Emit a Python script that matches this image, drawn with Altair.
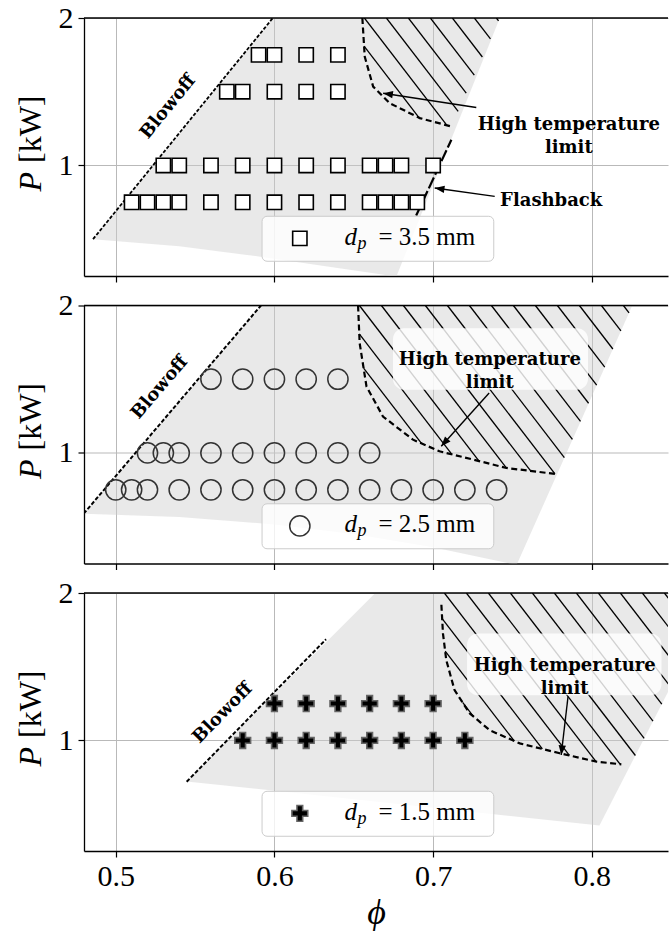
import math
import altair as alt
import pandas as pd

SERIF = "Liberation Serif"
ANN = "DejaVu Serif"
GRID = "#b9b9b9"

PHI_DOMAIN = [0.48, 0.848]
P_DOMAIN = [0.25, 2.0]
X_TICKS = [0.5, 0.6, 0.7, 0.8]
Y_TICKS = [1, 2]
W, H = 584, 258

# ---------------- measured operating points ----------------
# panel 1 : d_p = 3.5 mm (squares)
p1_P_rows = [1.75, 1.5, 1.0, 0.75]
p1_phi_rows = [
    [0.59, 0.60, 0.62, 0.64],
    [0.57, 0.58, 0.60, 0.62, 0.64],
    [0.53, 0.54, 0.56, 0.58, 0.60, 0.62, 0.64, 0.66, 0.67, 0.68, 0.70],
    [0.51, 0.52, 0.53, 0.54, 0.56, 0.58, 0.60, 0.62, 0.64, 0.66, 0.67, 0.68, 0.69],
]
# panel 2 : d_p = 2.5 mm (circles)
p2_P_rows = [1.5, 1.0, 0.75]
p2_phi_rows = [
    [0.56, 0.58, 0.60, 0.62, 0.64],
    [0.52, 0.53, 0.54, 0.56, 0.58, 0.60, 0.62, 0.64, 0.66],
    [0.50, 0.51, 0.52, 0.54, 0.56, 0.58, 0.60, 0.62, 0.64, 0.66, 0.68, 0.70, 0.72, 0.74],
]
# panel 3 : d_p = 1.5 mm (plus)
p3_P_rows = [1.25, 1.0]
p3_phi_rows = [
    [0.60, 0.62, 0.64, 0.66, 0.68, 0.70],
    [0.58, 0.60, 0.62, 0.64, 0.66, 0.68, 0.70, 0.72],
]

# ---------------- stable-region outlines (grey) ----------------
p1_region_phi = [0.4857, 0.599, 0.742, 0.6766, 0.669, 0.588, 0.540]
p1_region_P = [0.500, 2.0, 2.0, 0.24, 0.258, 0.385, 0.452]
p2_region_phi = [0.4798, 0.5915, 0.8255, 0.7526, 0.70, 0.65, 0.60, 0.54]
p2_region_P = [0.588, 2.0, 2.0, 0.24, 0.36, 0.45, 0.515, 0.565]
p3_region_phi = [0.5447, 0.6636, 0.88, 0.8048]
p3_region_P = [0.722, 2.0, 2.0, 0.423]

# ---------------- high temperature limit curves ----------------
p1_ht_phi = [0.6554, 0.6569, 0.6622, 0.6727, 0.6916, 0.7115]
p1_ht_P = [2.0, 1.738, 1.535, 1.422, 1.321, 1.264]
p2_ht_phi = [0.6527, 0.6537, 0.658, 0.6684, 0.6873, 0.704, 0.7252, 0.7462, 0.778]
p2_ht_P = [2.0, 1.745, 1.451, 1.247, 1.09, 1.011, 0.955, 0.898, 0.856]
p3_ht_phi = [0.7052, 0.7062, 0.7083, 0.7135, 0.7231, 0.7357, 0.7546, 0.7798, 0.8029, 0.8186]
p3_ht_P = [1.92, 1.725, 1.544, 1.341, 1.183, 1.069, 0.98, 0.913, 0.856, 0.838]
# closing corners of the hatched zones (along the grey edge / top)
p1_hatch_close_phi = [0.742, 0.6554]
p1_hatch_close_P = [2.0, 2.0]
p2_hatch_close_phi = [0.8255, 0.6527]
p2_hatch_close_P = [2.0, 2.0]
p3_hatch_close_phi = [0.8246, 0.88, 0.7052]
p3_hatch_close_P = [0.838, 2.0, 2.0]

# ---------------- blowoff / flashback lines ----------------
p1_blow_phi = [0.4857, 0.599]
p1_blow_P = [0.50, 2.0]
p2_blow_phi = [0.4798, 0.5915]
p2_blow_P = [0.588, 2.0]
p3_blow_phi = [0.5447, 0.6325]
p3_blow_P = [0.72, 1.686]
p1_flash_phi = [0.6893, 0.7115]
p1_flash_P = [0.66, 1.174]

# ---------------- annotation anchors (data units) ----------------
blow_text = [(0.533, 1.397), (0.5277, 1.442), (0.5674, 1.185)]
ht_text = [(0.7855, 1.276), (0.7357, 1.628), (0.7829, 1.508)]
ht_box = [None, (0.6747, 0.7976, 1.429, 1.846), (0.7214, 0.8439, 1.307, 1.725)]
ht_arrow = [((0.7272, 1.393), (0.6685, 1.49)),
            ((0.7353, 1.406), (0.7051, 1.045)),
            ((0.785, 1.296), (0.7807, 0.901))]
flash_text = (0.7744, 0.756)
flash_arrow = ((0.7388, 0.79), (0.701, 0.847))
legend_box = (0.5922, 0.7382, 0.35, 0.655)
legend_sym = (0.616, 0.505)
legend_txt = (0.6441, 0.463)
legend_labels = ["3.5", "2.5", "1.5"]
hatch_phase = [302.4, 297.4, 382.4]

# ---------------- helpers ----------------
SX = W / (PHI_DOMAIN[1] - PHI_DOMAIN[0])
SY = H / (P_DOMAIN[1] - P_DOMAIN[0])


def to_px(phi, P):
    return ((phi - PHI_DOMAIN[0]) * SX, (P_DOMAIN[1] - P) * SY)


def to_data(X, Y):
    return (PHI_DOMAIN[0] + X / SX, P_DOMAIN[1] - Y / SY)


def hatch(poly_phi, poly_P, phase, spacing=22.0, slope=1.3):
    pts = [to_px(a, b) for a, b in zip(poly_phi, poly_P)]
    cs = [X - Y / slope for X, Y in pts]
    k0 = math.floor((min(cs) - phase) / spacing)
    k1 = math.ceil((max(cs) - phase) / spacing)
    rows = []
    n = len(pts)
    for k in range(k0, k1 + 1):
        c = phase + k * spacing
        hits = []
        for i in range(n):
            xa, ya = pts[i]
            xb, yb = pts[(i + 1) % n]
            fa = xa - ya / slope - c
            fb = xb - yb / slope - c
            if (fa > 0) != (fb > 0):
                t = fa / (fa - fb)
                hits.append((ya + t * (yb - ya), xa + t * (xb - xa)))
        hits.sort()
        for j in range(0, len(hits) - 1, 2):
            (y1_, x1_), (y2_, x2_) = hits[j], hits[j + 1]
            a = to_data(x1_, y1_)
            b = to_data(x2_, y2_)
            rows.append({"phi": a[0], "P": a[1], "phi2": b[0], "P2": b[1]})
    return pd.DataFrame(rows)


def angle_of(phi_a, P_a, phi_b, P_b):
    dx = (phi_b - phi_a) * SX
    dy = (P_b - P_a) * SY
    return (360 - math.degrees(math.atan2(dy, dx))) % 360


PLUS = ("M-0.36,-1L0.36,-1L0.36,-0.36L1,-0.36L1,0.36L0.36,0.36L0.36,1L-0.36,1"
        "L-0.36,0.36L-1,0.36L-1,-0.36L-0.36,-0.36Z")
HEAD = "M0,0L-0.38,1L0.38,1Z"

xscale = alt.Scale(domain=PHI_DOMAIN, nice=False, zero=False)
yscale = alt.Scale(domain=P_DOMAIN, nice=False, zero=False)


def axes(last):
    ax = alt.Axis(values=X_TICKS, labels=last, title="ϕ" if last else "", format=".1f",
                  grid=True, gridColor=GRID, gridWidth=1, tickSize=6, tickColor="black",
                  tickWidth=1.2, domainColor="black", domainWidth=1.3, labelFont=SERIF,
                  labelFontSize=30, labelColor="black", labelPadding=4, labelFlush=False,
                  titleFont=SERIF, titleFontSize=36, titleFontStyle="italic",
                  titleFontWeight="normal", titleColor="black", titlePadding=4)
    ay = alt.Axis(values=Y_TICKS, format="d", title="", grid=True, gridColor=GRID,
                  gridWidth=1, tickSize=6, tickColor="black", tickWidth=1.2,
                  domainColor="black", domainWidth=1.3, labelFont=SERIF, labelFontSize=30,
                  labelColor="black", labelPadding=5, labelFlush=False)
    return ax, ay


def panel(i):
    last = i == 2
    ax, ay = axes(last)
    X = lambda f="phi": alt.X(f"{f}:Q", scale=xscale, axis=ax)
    Y = lambda f="P": alt.Y(f"{f}:Q", scale=yscale, axis=ay)
    layers = []

    reg_phi, reg_P = [(p1_region_phi, p1_region_P), (p2_region_phi, p2_region_P),
                      (p3_region_phi, p3_region_P)][i]
    gdf = pd.DataFrame({"phi": reg_phi, "P": reg_P, "i": range(len(reg_phi))})
    layers.append(alt.Chart(gdf).mark_line(interpolate="linear-closed", fill="#cfcfcf",
                                           fillOpacity=0.45, strokeOpacity=0, clip=True)
                  .encode(x=X(), y=Y(), order="i:Q"))

    ht_phi, ht_P = [(p1_ht_phi, p1_ht_P), (p2_ht_phi, p2_ht_P), (p3_ht_phi, p3_ht_P)][i]
    cl_phi, cl_P = [(p1_hatch_close_phi, p1_hatch_close_P),
                    (p2_hatch_close_phi, p2_hatch_close_P),
                    (p3_hatch_close_phi, p3_hatch_close_P)][i]
    hdf = hatch(ht_phi + cl_phi, ht_P + cl_P, hatch_phase[i])
    layers.append(alt.Chart(hdf).mark_rule(color="black", strokeWidth=1.3, clip=True)
                  .encode(x=X(), y=Y(), x2="phi2:Q", y2="P2:Q"))

    cdf = pd.DataFrame({"phi": ht_phi, "P": ht_P, "i": range(len(ht_phi))})
    layers.append(alt.Chart(cdf).mark_line(color="black", strokeWidth=2.2, strokeDash=[6, 3.5],
                                           clip=True)
                  .encode(x=X(), y=Y(), order="i:Q"))

    b_phi, b_P = [(p1_blow_phi, p1_blow_P), (p2_blow_phi, p2_blow_P),
                  (p3_blow_phi, p3_blow_P)][i]
    bdf = pd.DataFrame({"phi": b_phi, "P": b_P, "i": [0, 1]})
    layers.append(alt.Chart(bdf).mark_line(color="black", strokeWidth=2 if i else 1.8,
                                           strokeDash=[4, 2] if i else [3.5, 1.8], clip=True)
                  .encode(x=X(), y=Y(), order="i:Q"))
    if i == 0:
        fdf = pd.DataFrame({"phi": p1_flash_phi, "P": p1_flash_P, "i": [0, 1]})
        layers.append(alt.Chart(fdf).mark_line(color="black", strokeWidth=2.2,
                                               strokeDash=[12, 3], clip=True)
                      .encode(x=X(), y=Y(), order="i:Q"))

    # operating points
    rows_P, rows_phi = [(p1_P_rows, p1_phi_rows), (p2_P_rows, p2_phi_rows),
                        (p3_P_rows, p3_phi_rows)][i]
    pts = pd.DataFrame([{"phi": f, "P": p} for p, fs in zip(rows_P, rows_phi) for f in fs])
    if i == 0:
        mk = dict(shape="square", filled=True, fill="white", stroke="black",
                  strokeWidth=1.6, size=205, opacity=1)
    elif i == 1:
        mk = dict(shape="circle", filled=False, stroke="#333333", strokeWidth=1.5,
                  size=410, opacity=1)
    else:
        mk = dict(shape=PLUS, filled=True, fill="black", stroke="#666666",
                  strokeWidth=1.6, size=250, opacity=1)
    layers.append(alt.Chart(pts).mark_point(**mk).encode(x=X(), y=Y()))

    # legend
    lb = pd.DataFrame([{"phi": legend_box[0], "phi2": legend_box[1],
                        "P": legend_box[2], "P2": legend_box[3]}])
    layers.append(alt.Chart(lb).mark_rect(fill="white", fillOpacity=0.8, stroke="#cccccc",
                                          strokeWidth=1, cornerRadius=5)
                  .encode(x=X(), x2="phi2:Q", y=Y(), y2="P2:Q"))
    ls = pd.DataFrame([{"phi": legend_sym[0], "P": legend_sym[1]}])
    layers.append(alt.Chart(ls).mark_point(**mk).encode(x=X(), y=Y()))
    lt = pd.DataFrame([{"phi": legend_txt[0], "P": legend_txt[1]}])
    layers.append(alt.Chart(lt).mark_text(text="d", font=SERIF, fontStyle="italic",
                                          fontSize=25, align="left", baseline="alphabetic",
                                          color="black")
                  .encode(x=X(), y=Y()))
    layers.append(alt.Chart(lt).mark_text(text="p", font=SERIF, fontStyle="italic",
                                          fontSize=18, align="left", baseline="alphabetic",
                                          dx=13, dy=4, color="black")
                  .encode(x=X(), y=Y()))
    layers.append(alt.Chart(lt).mark_text(text=f"= {legend_labels[i]} mm", font=SERIF,
                                          fontSize=25, align="left", baseline="alphabetic",
                                          dx=34, color="black")
                  .encode(x=X(), y=Y()))

    # high temperature annotation
    if ht_box[i] is not None:
        bx = ht_box[i]
        hb = pd.DataFrame([{"phi": bx[0], "phi2": bx[1], "P": bx[2], "P2": bx[3]}])
        layers.append(alt.Chart(hb).mark_rect(fill="white", fillOpacity=0.82,
                                              cornerRadius=11)
                      .encode(x=X(), x2="phi2:Q", y=Y(), y2="P2:Q"))
    ht = pd.DataFrame([{"phi": ht_text[i][0], "P": ht_text[i][1]}])
    layers.append(alt.Chart(ht).mark_text(text="High temperature\nlimit", lineBreak="\n",
                                          lineHeight=23, font=ANN, fontWeight="bold",
                                          fontSize=18, align="center", baseline="middle",
                                          color="black")
                  .encode(x=X(), y=Y()))

    arrows = [ht_arrow[i]] + ([flash_arrow] if i == 0 else [])
    adf = pd.DataFrame([{"phi": t[0], "P": t[1], "phi2": h[0], "P2": h[1]} for t, h in arrows])
    layers.append(alt.Chart(adf).mark_rule(color="black", strokeWidth=1.4)
                  .encode(x=X(), y=Y(), x2="phi2:Q", y2="P2:Q"))
    hd = pd.DataFrame([{"phi": h[0], "P": h[1],
                        "ang": (angle_of(t[0], t[1], h[0], h[1]) + 90) % 360}
                       for t, h in arrows])
    layers.append(alt.Chart(hd).mark_point(shape=HEAD, filled=True, fill="black",
                                           strokeOpacity=0, size=380, opacity=1)
                  .encode(x=X(), y=Y(), angle=alt.Angle("ang:Q", scale=None)))

    if i == 0:
        ft = pd.DataFrame([{"phi": flash_text[0], "P": flash_text[1]}])
        layers.append(alt.Chart(ft).mark_text(text="Flashback", font=ANN, fontWeight="bold",
                                              fontSize=18, align="center",
                                              baseline="middle", color="black")
                      .encode(x=X(), y=Y()))

    bt = pd.DataFrame([{"phi": blow_text[i][0], "P": blow_text[i][1]}])
    bang = angle_of(b_phi[0], b_P[0], b_phi[1], b_P[1])
    layers.append(alt.Chart(bt).mark_text(text="Blowoff", font=ANN, fontWeight="bold",
                                          fontSize=18, align="center", baseline="middle",
                                          angle=bang, color="black")
                  .encode(x=X(), y=Y()))

    # top spine
    layers.append(alt.Chart(pd.DataFrame({"P": [P_DOMAIN[1]]})).mark_rule(
        color="black", strokeWidth=1.3).encode(y=Y()))

    # y title : italic P + roman [kW]
    one = pd.DataFrame({"k": [0]})
    layers.append(alt.Chart(one).mark_text(text="P", font=SERIF, fontStyle="italic",
                                           fontSize=32, angle=270, align="right",
                                           baseline="middle", color="black")
                  .encode(x=alt.value(-53), y=alt.value(154)))
    layers.append(alt.Chart(one).mark_text(text="[kW]", font=SERIF, fontSize=32, angle=270,
                                           align="left", baseline="middle", color="black")
                  .encode(x=alt.value(-53), y=alt.value(145)))

    # invisible extent guides that pin the page margins
    if i == 0:
        layers.append(alt.Chart(one).mark_rule(strokeOpacity=0)
                      .encode(x=alt.value(-84), y=alt.value(-18), y2=alt.value(-17)))
    if last:
        layers.append(alt.Chart(one).mark_rule(strokeOpacity=0)
                      .encode(x=alt.value(10), y=alt.value(H + 79), y2=alt.value(H + 80)))

    return alt.layer(*layers).properties(width=W, height=H)


chart = alt.vconcat(panel(0), panel(1), panel(2), spacing=29.5, bounds="flush").properties(
    padding=0
).configure_view(strokeWidth=0)

chart.save("out.html", embed_options={"renderer": "svg", "actions": False})
